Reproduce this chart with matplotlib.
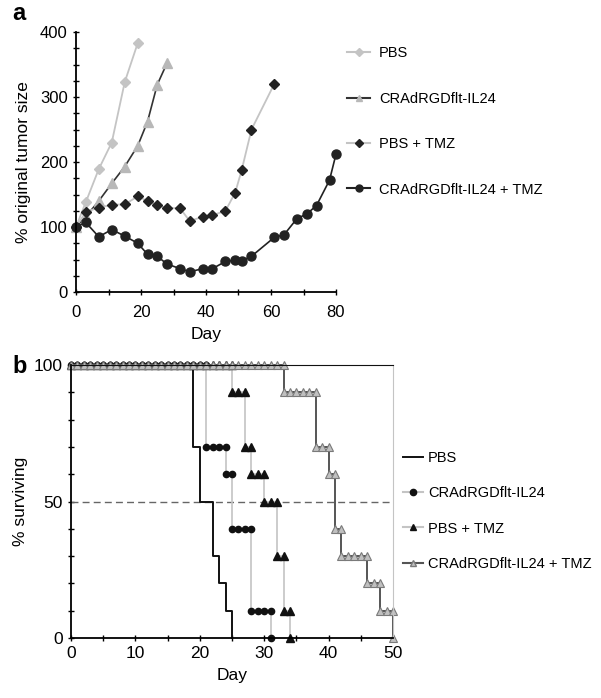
import matplotlib
matplotlib.use('Agg')
import matplotlib.pyplot as plt
from matplotlib.lines import Line2D
from matplotlib.ticker import MultipleLocator

plt.rcParams['font.family'] = ['Liberation Sans', 'DejaVu Sans']

# ---- panel a: tumor size ----
pbs_days = [0, 3, 7, 11, 15, 19]
pbs_size = [100, 138, 189, 230, 323, 383]

crad_days = [0, 3, 7, 11, 15, 19, 22, 25, 28]
crad_size = [100, 116, 140, 167, 193, 225, 262, 319, 352]

tmz_days = [0, 3, 7, 11, 15, 19, 22, 25, 28, 32, 35, 39, 42, 46, 49, 51, 54, 61]
tmz_size = [100, 123, 130, 134, 135, 147, 140, 134, 129, 129, 109, 116, 118, 125, 153, 188, 250, 320]

combo_days = [0, 3, 7, 11, 15, 19, 22, 25, 28, 32, 35, 39, 42, 46, 49, 51, 54, 61, 64, 68, 71, 74, 78, 80]
combo_size = [100, 107, 85, 96, 86, 75, 58, 55, 43, 36, 31, 36, 36, 47, 49, 48, 55, 84, 88, 113, 120, 133, 172, 212]

labels = ['PBS', 'CRAdRGDflt-IL24', 'PBS + TMZ', 'CRAdRGDflt-IL24 + TMZ']

# ---- panel b: survival (one marker per observed day) ----
pbs_s_days = [0, 19, 19, 20, 20, 22, 22, 23, 23, 24, 24, 25, 25]
pbs_s_pct = [100, 100, 70, 70, 50, 50, 30, 30, 20, 20, 10, 10, 0]

crad_s_days = [0, 1, 2, 3, 4, 5, 6, 7, 8, 9, 10, 11, 12, 13, 14, 15, 16, 17, 18, 19, 20, 21,
               21, 22, 23, 24, 24, 25, 25, 26, 27, 28, 28, 29, 30, 31, 31]
crad_s_pct = [100] * 22 + [70, 70, 70, 70, 60, 60, 40, 40, 40, 40, 10, 10, 10, 10, 0]

tmz_s_days = [0, 1, 2, 3, 4, 5, 6, 7, 8, 9, 10, 11, 12, 13, 14, 15, 16, 17, 18, 19, 20, 21,
              22, 23, 24, 25, 25, 26, 27, 27, 28, 28, 29, 30, 30, 31, 32, 32, 33, 33, 34, 34]
tmz_s_pct = [100] * 26 + [90, 90, 90, 70, 70, 60, 60, 60, 50, 50, 50, 30, 30, 10, 10, 0]

combo_s_days = [0, 1, 2, 3, 4, 5, 6, 7, 8, 9, 10, 11, 12, 13, 14, 15, 16, 17, 18, 19, 20, 21,
                22, 23, 24, 25, 26, 27, 28, 29, 30, 31, 32, 33, 33, 34, 35, 36, 37, 38, 38, 39,
                40, 40, 41, 41, 42, 42, 43, 44, 45, 46, 46, 47, 48, 48, 49, 50, 50]
combo_s_pct = [100] * 34 + [90, 90, 90, 90, 90, 90, 70, 70, 70, 60, 60, 40, 40, 30, 30, 30, 30,
                            30, 20, 20, 20, 10, 10, 10, 0]

LG = '#c4c4c4'
fig = plt.figure(figsize=(6.01, 6.98), dpi=100)

# panel a
ax = fig.add_axes([76 / 601, 1 - 292 / 698, 260 / 601, 260 / 698])
ax.plot(pbs_days, pbs_size, color=LG, lw=1.3, marker='D', ms=5.5, mfc=LG, mec=LG, clip_on=False)
ax.plot(crad_days, crad_size, color='#333333', lw=1.2, marker='^', ms=6.5, mfc='#b8b8b8', mec='#b8b8b8', clip_on=False)
ax.plot(tmz_days, tmz_size, color=LG, lw=1.3, marker='D', ms=5.5, mfc='#222222', mec='#222222', clip_on=False)
ax.plot(combo_days, combo_size, color='#222222', lw=1.2, marker='o', ms=6.5, mfc='#222222', mec='#222222', clip_on=False)
ax.set_xlim(0, 80)
ax.set_ylim(0, 400)
ax.xaxis.set_major_locator(MultipleLocator(20))
ax.xaxis.set_minor_locator(MultipleLocator(10))
ax.yaxis.set_major_locator(MultipleLocator(100))
ax.yaxis.set_minor_locator(MultipleLocator(25))
for s in ['top', 'right']:
    ax.spines[s].set_visible(False)
for s in ['left', 'bottom']:
    ax.spines[s].set_linewidth(1.3)
ax.tick_params(which='both', direction='inout', width=1, labelsize=12)
ax.tick_params(which='major', length=5)
ax.tick_params(which='minor', length=4)
ax.tick_params(axis='x', which='both', pad=7)
ax.set_xlabel('Day', fontsize=12.5, labelpad=5)
ax.set_ylabel('% original tumor size', fontsize=12.5, labelpad=6)

h_a = [Line2D([], [], color=LG, marker='D', ms=4, mfc=LG, mec=LG),
       Line2D([], [], color='#333333', marker='^', ms=5, mfc='#b8b8b8', mec='#b8b8b8'),
       Line2D([], [], color=LG, marker='D', ms=4, mfc='#222222', mec='#222222'),
       Line2D([], [], color='#222222', marker='o', ms=5, mfc='#222222', mec='#222222')]
fig.legend(h_a, labels, loc='center left', bbox_to_anchor=(347 / 601, 1 - 121.5 / 698),
           frameon=False, fontsize=10.5, handlelength=1.6, handletextpad=0.6,
           labelspacing=2.15, borderpad=0, borderaxespad=0)

# panel b
bx = fig.add_axes([71 / 601, 1 - 638 / 698, 322 / 601, 273 / 698])
bx.axhline(50, color='#666666', lw=1, ls=(0, (5, 3)))
bx.plot(pbs_s_days, pbs_s_pct, color='#111111', lw=1.4, drawstyle='steps-post', clip_on=False)
bx.plot(crad_s_days, crad_s_pct, color=LG, lw=1.2, drawstyle='steps-post', marker='o', ms=4.5,
        mfc='#111111', mec='#111111', clip_on=False)
bx.plot(tmz_s_days, tmz_s_pct, color=LG, lw=1.2, drawstyle='steps-post', marker='^', ms=5.5,
        mfc='#111111', mec='#111111', clip_on=False)
bx.plot(combo_s_days, combo_s_pct, color='#555555', lw=1.4, drawstyle='steps-post', marker='^', ms=5.5,
        mfc='#c0c0c0', mec='#7a7a7a', mew=0.8, clip_on=False)
bx.set_xlim(0, 50)
bx.set_ylim(0, 100)
bx.xaxis.set_major_locator(MultipleLocator(10))
bx.xaxis.set_minor_locator(MultipleLocator(5))
bx.yaxis.set_major_locator(MultipleLocator(50))
bx.yaxis.set_minor_locator(MultipleLocator(10))
bx.spines['top'].set_color('#111111')
bx.spines['right'].set_color(LG)
for s in ['left', 'bottom']:
    bx.spines[s].set_linewidth(1.3)
bx.tick_params(which='both', direction='inout', width=1, labelsize=12.5)
bx.tick_params(which='major', length=5)
bx.tick_params(which='minor', length=4)
bx.tick_params(axis='x', which='both', pad=3)
bx.set_xlabel('Day', fontsize=12.5, labelpad=5)
bx.set_ylabel('% surviving', fontsize=12.5, labelpad=4)

h_b = [Line2D([], [], color='#111111', lw=1.4),
       Line2D([], [], color=LG, marker='o', ms=4.5, mfc='#111111', mec='#111111'),
       Line2D([], [], color=LG, marker='^', ms=5, mfc='#111111', mec='#111111'),
       Line2D([], [], color='#555555', marker='^', ms=5, mfc='#c0c0c0', mec='#7a7a7a')]
fig.legend(h_b, labels, loc='center left', bbox_to_anchor=(403 / 601, 1 - 511 / 698),
           frameon=False, fontsize=10.5, handlelength=1.4, handletextpad=0.3,
           labelspacing=1.45, borderpad=0, borderaxespad=0)

fig.text(12 / 601, 1 - 14 / 698, 'a', fontsize=17, fontweight='bold', va='center')
fig.text(12 / 601, 1 - 367 / 698, 'b', fontsize=17, fontweight='bold', va='center')

fig.savefig('out.png', dpi=100)
